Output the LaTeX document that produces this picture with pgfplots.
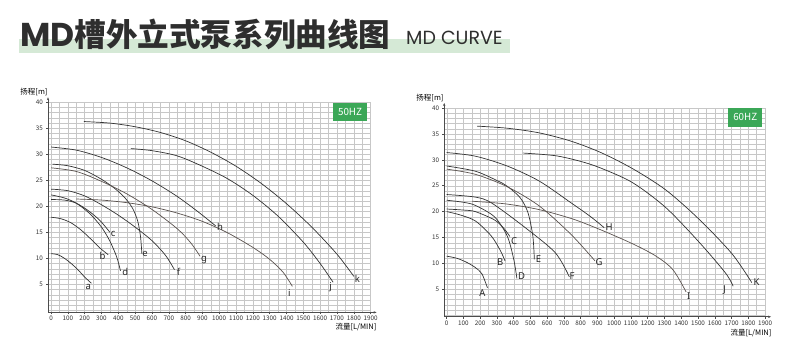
\documentclass[border=0pt]{standalone}
\usepackage{fontspec}
\setmainfont{Noto Sans CJK SC}
\newfontfamily\pop{Poppins}
\newfontfamily\lab{Noto Sans}
\usepackage{pgfplots}
\pgfplotsset{compat=1.18}
\usetikzlibrary{arrows.meta}
\definecolor{band}{HTML}{D5E9D6}
\definecolor{hzgreen}{HTML}{3BA757}
\definecolor{crvcol}{HTML}{333333}
\definecolor{crvbcol}{HTML}{5A524E}
\definecolor{titlec}{HTML}{2E2E2E}
\pgfplotsset{pumpaxis/.style={
  scale only axis, anchor=south west, clip=false,
  xmax=1900, ymax=40,
  axis lines=left,
  axis line style={draw=black!70, line width=0.6pt},
  x axis line style={-{Stealth[length=3pt,width=2.4pt]}, shorten >=-6pt},
  y axis line style={-{Stealth[length=3pt,width=2.4pt]}, shorten >=-5pt},
  xtick={0,100,...,1900}, ytick={5,10,...,40},
  minor xtick={0,50,...,1900}, minor ytick={0,1,...,40},
  grid=both,
  major grid style={black!22, line width=0.4pt},
  minor grid style={black!22, line width=0.4pt},
  tick align=outside, major tick length=2pt, minor tick length=0pt,
  tick style={black!70, line width=0.5pt},
  every tick label/.append style={font=\fontsize{6.3}{7}\selectfont, text=black!80},
  xticklabel style={inner sep=1pt, yshift=-0.5pt},
  yticklabel style={inner sep=1pt, xshift=-2pt},
  /pgf/number format/assume math mode=true,
  /pgf/number format/1000 sep={},
  ccurve/.style={draw=crvcol, line width=0.7pt, smooth},
  bcurve/.style={draw=crvbcol, line width=0.7pt, smooth},
}}
\tikzset{lab/.style={font=\lab\fontsize{9.5}{10}\selectfont, text=black!85, inner sep=0pt}}
\begin{document}
\begin{tikzpicture}[x=1pt,y=1pt]
\path[use as bounding box] (0,0) rectangle (800,352);
% title
\fill[band] (19,298.7) rectangle (510,312.7);
\node[anchor=base west, inner sep=0pt, text=titlec] at (20,305)
  {{\pop\bfseries\fontsize{33}{33}\selectfont MD}{\bfseries\fontsize{31.6}{32}\selectfont 槽外立式泵系列曲线图}};
\node[anchor=base west, inner sep=0pt, text=titlec] at (406,307)
  {\pop\fontsize{19}{19}\selectfont MD CURVE};
% axis titles
\node[inner sep=0pt, font=\fontsize{7.5}{8}\selectfont] at (34,260) {扬程[m]};
\node[inner sep=0pt, font=\fontsize{7.5}{8}\selectfont] at (356,25) {流量[L/MIN]};
\node[inner sep=0pt, font=\fontsize{7.5}{8}\selectfont] at (430,254) {扬程[m]};
\node[inner sep=0pt, font=\fontsize{7.5}{8}\selectfont] at (751,19) {流量[L/MIN]};

% ---------- 50 Hz ----------
\begin{axis}[pumpaxis, at={(48pt,39.6pt)}, width=322.6pt, height=210.1pt, xmin=-18, ymin=-0.4]
\fill[hzgreen] (axis cs:1677,39.9) rectangle (axis cs:1879,36.4);
\node[text=white, font=\fontsize{9.8}{10}\selectfont, inner sep=0pt] at (axis cs:1778,38.15) {50HZ};
% a
\addplot[ccurve] coordinates {(0,10.9) (40,10.7) (80,10.0) (120,9.0) (160,7.8) (200,6.4) (240,5.2)};
% b
\addplot[ccurve] coordinates {(0,17.9) (60,17.6) (120,16.8) (180,15.4) (240,13.6) (290,12.0) (340,10.7)};
% c
\addplot[ccurve] coordinates {(0,21.3) (80,21.2) (150,20.6) (220,19.2) (290,17.3) (350,15.0)};
% d
\addplot[ccurve] coordinates {(0,22.2) (80,21.6) (150,20.6) (230,18.6) (300,16.0) (350,13.3) (390,10.3) (413,7.6)};
% e
\addplot[ccurve] coordinates {(10,28.1) (100,27.8) (200,26.9) (300,25.2) (380,23.4) (440,21.6) (485,19.6) (515,17.2) (532,14.2) (540,10.9)};
% f
\addplot[ccurve] coordinates {(0,23.3) (100,23.0) (200,22.0) (300,20.3) (400,18.3) (500,16.0) (600,13.4) (680,10.6) (734,7.8)};
% g
\addplot[bcurve] coordinates {(0,27.4) (150,26.7) (300,24.8) (450,22.4) (600,19.4) (750,15.7) (830,13.0) (886,10.4)};
% h
\addplot[ccurve] coordinates {(0,31.4) (150,30.8) (300,29.4) (450,27.4) (600,24.9) (750,21.9) (880,18.8) (980,16.2)};
% i
\addplot[bcurve] coordinates {(150,21.4) (300,21.2) (450,20.7) (600,19.9) (750,18.7) (900,17.1) (1050,14.9) (1200,12.1) (1300,9.8) (1380,7.3) (1435,4.6)};
% j
\addplot[ccurve] coordinates {(475,31.1) (600,30.7) (750,29.7) (900,27.7) (1050,25.3) (1200,22.1) (1350,18.1) (1500,13.1) (1600,9.0) (1677,5.4)};
% k
\addplot[ccurve] coordinates {(195,36.3) (350,36.0) (500,35.3) (650,34.2) (800,32.6) (950,30.4) (1100,27.7) (1250,24.4) (1400,20.5) (1550,16.0) (1700,10.8) (1801,6.5)};
\node[lab] at (axis cs:222,4.4) {a};
\node[lab] at (axis cs:306,10.4) {b};
\node[lab] at (axis cs:370,14.6) {c};
\node[lab] at (axis cs:442,7.4) {d};
\node[lab] at (axis cs:559,10.9) {e};
\node[lab] at (axis cs:758,7.4) {f};
\node[lab] at (axis cs:910,9.6) {g};
\node[lab] at (axis cs:1005,16.0) {h};
\node[lab] at (axis cs:1417,3.3) {i};
\node[lab] at (axis cs:1662,4.5) {j};
\node[lab] at (axis cs:1821,6.1) {k};
\end{axis}

% ---------- 60 Hz ----------
\begin{axis}[pumpaxis, at={(444.2pt,35.2pt)}, width=320.8pt, height=208.8pt, xmin=-15, ymin=-0.3]
\fill[hzgreen] (axis cs:1680,40) rectangle (axis cs:1885,36.4);
\node[text=white, font=\fontsize{9.8}{10}\selectfont, inner sep=0pt] at (axis cs:1782,38.2) {60HZ};
% A
\addplot[ccurve] coordinates {(0,11.4) (60,11.0) (120,10.2) (171,9.2) (210,8.0) (243,5.3)};
% B
\addplot[ccurve] coordinates {(0,20.0) (76,19.4) (171,18.2) (266,15.3) (320,12.5) (348,10.5)};
% C
\addplot[ccurve] coordinates {(0,20.5) (100,20.3) (171,20.0) (285,18.4) (340,16.8) (377,15.2)};
% D
\addplot[ccurve] coordinates {(0,22.2) (100,21.8) (171,21.2) (285,19.0) (361,15.3) (400,10.8) (419,7.1)};
% E
\addplot[ccurve] coordinates {(0,28.8) (171,27.8) (300,26.0) (361,24.9) (438,22.7) (485,19.8) (514,15.3) (523,10.8)};
% F
\addplot[ccurve] coordinates {(0,23.3) (171,22.8) (266,21.7) (457,17.2) (647,12.1) (732,7.4)};
% G
\addplot[bcurve] coordinates {(0,28.2) (171,27.2) (361,24.8) (552,21.1) (742,15.6) (885,10.5)};
% H
\addplot[ccurve] coordinates {(0,31.4) (171,30.7) (361,28.8) (552,25.9) (742,21.7) (860,19.0) (940,16.9)};
% I
\addplot[bcurve] coordinates {(152,22.0) (350,21.5) (550,20.4) (750,18.6) (911,16.6) (1109,13.8) (1250,11.4) (1350,8.8) (1429,4.5)};
% J
\addplot[ccurve] coordinates {(457,31.3) (647,30.8) (799,29.7) (920,28.4) (1109,25.6) (1307,20.8) (1504,14.2) (1663,8.2) (1710,5.6)};
% K
\addplot[ccurve] coordinates {(181,36.5) (361,36.1) (552,35.2) (742,33.6) (920,31.4) (1109,28.3) (1307,24.2) (1504,18.6) (1702,11.9) (1821,6.3)};
\node[lab] at (axis cs:320,10.3) {B};
\node[lab] at (axis cs:213,4.3) {A};
\node[lab] at (axis cs:403,14.4) {C};
\node[lab] at (axis cs:447,7.6) {D};
\node[lab] at (axis cs:548,10.8) {E};
\node[lab] at (axis cs:748,7.6) {F};
\node[lab] at (axis cs:909,10.3) {G};
\node[lab] at (axis cs:970,17.0) {H};
\node[lab] at (axis cs:1445,3.7) {I};
\node[lab] at (axis cs:1659,4.9) {J};
\node[lab] at (axis cs:1850,6.3) {K};
\end{axis}
\end{tikzpicture}
\end{document}
